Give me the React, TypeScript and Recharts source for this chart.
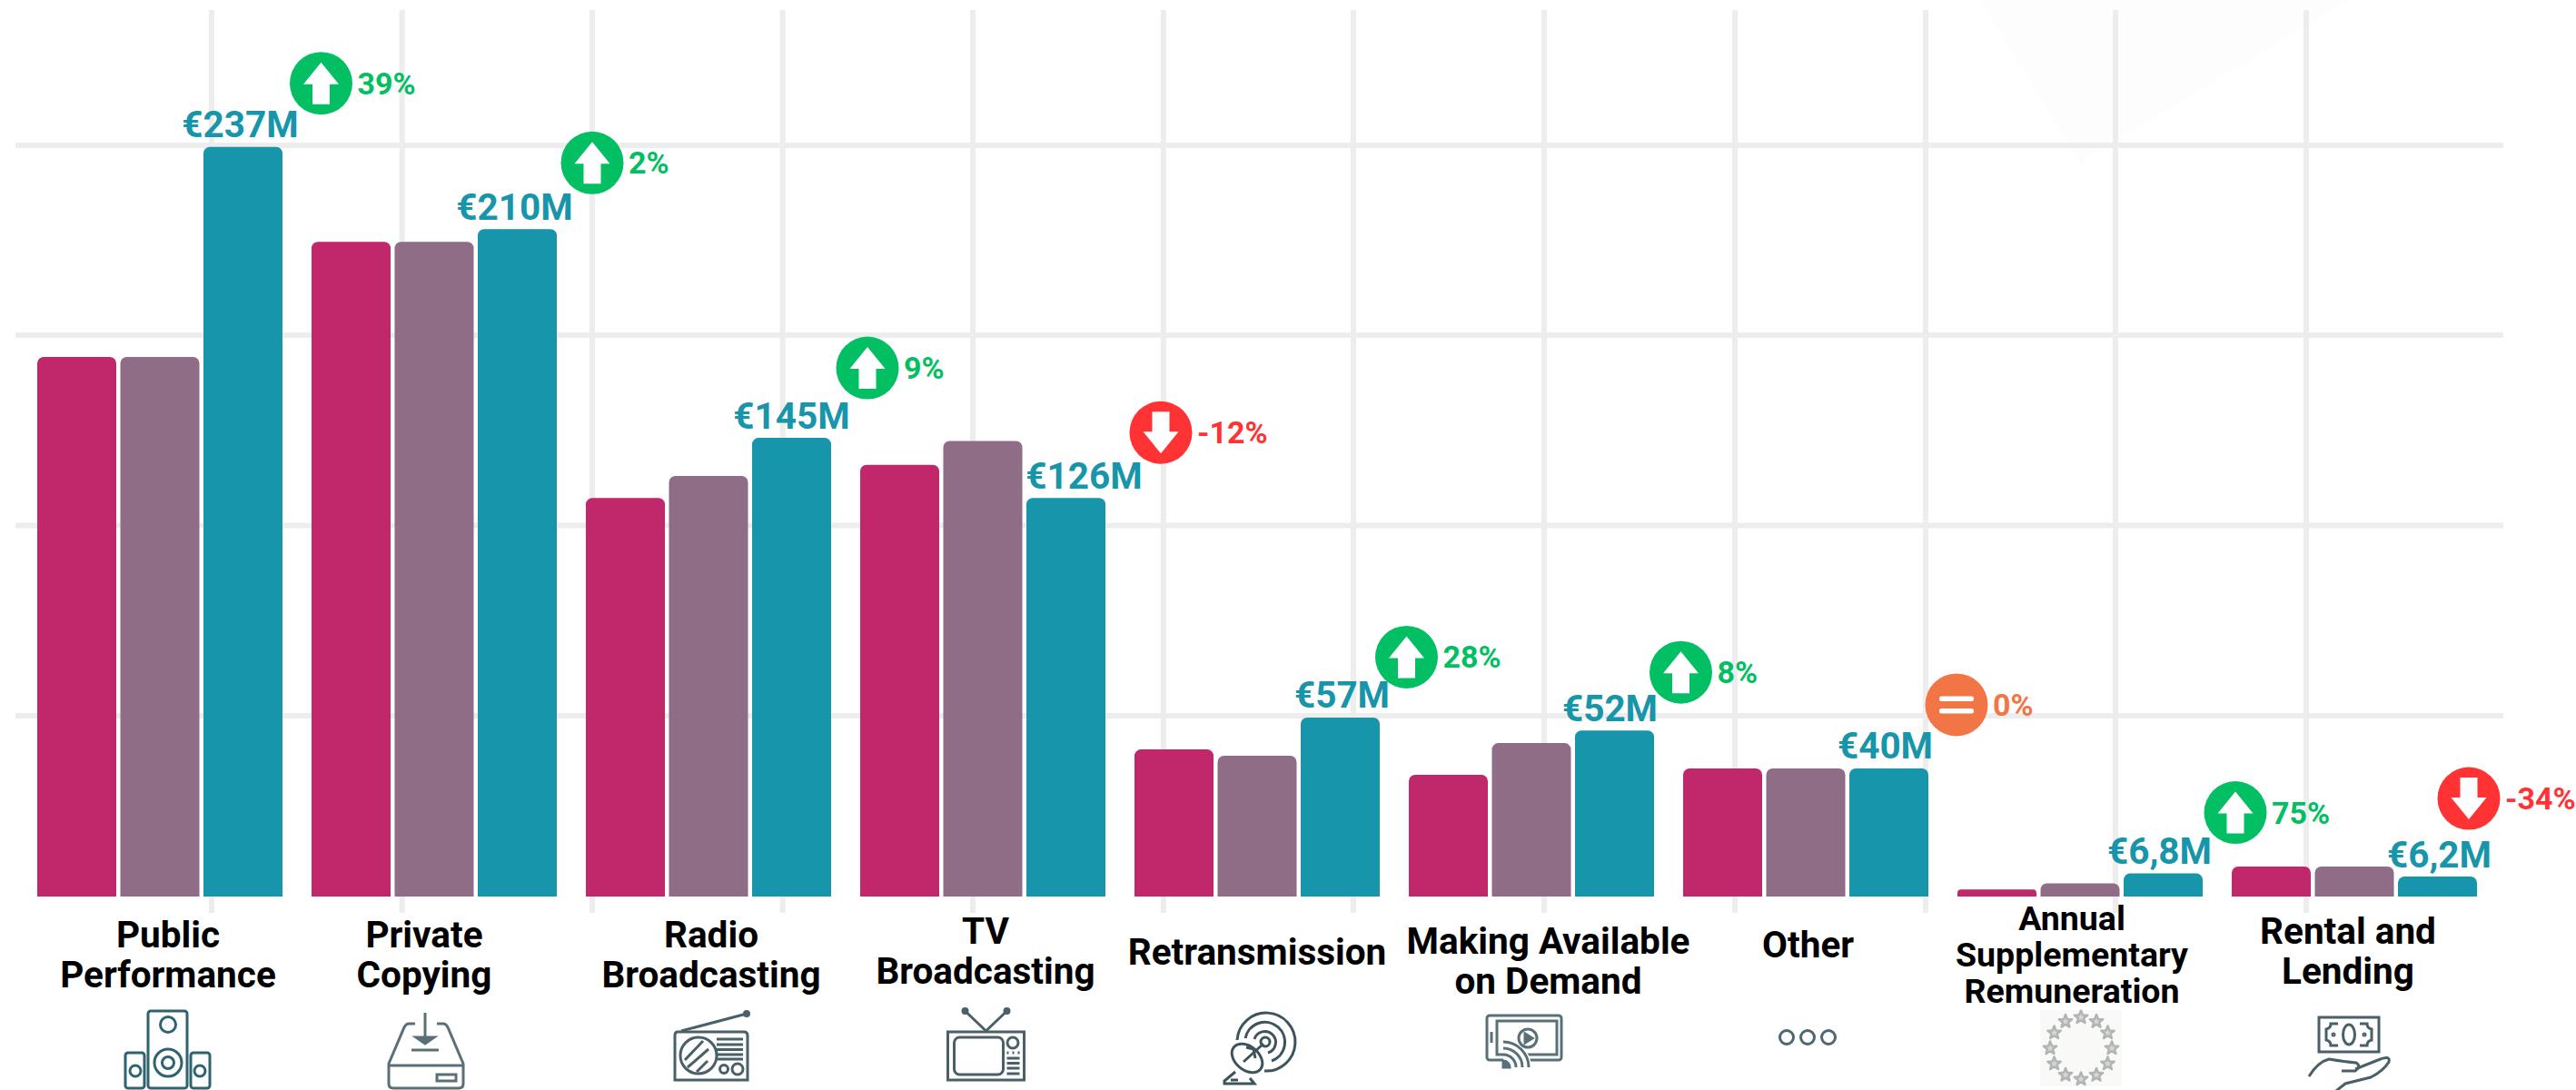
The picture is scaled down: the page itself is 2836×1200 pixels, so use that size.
import { BarChart, Bar, XAxis, YAxis, CartesianGrid, LabelList } from "recharts";

const categories = [
  "Public Performance",
  "Private Copying",
  "Radio Broadcasting",
  "TV Broadcasting",
  "Retransmission",
  "Making Available on Demand",
  "Other",
  "Annual Supplementary Remuneration",
  "Rental and Lending",
];
const categoryLines = [
  ["Public", "Performance"],
  ["Private", "Copying"],
  ["Radio", "Broadcasting"],
  ["TV", "Broadcasting"],
  ["Retransmission"],
  ["Making Available", "on Demand"],
  ["Other"],
  ["Annual", "Supplementary", "Remuneration"],
  ["Rental and", "Lending"],
];
const firstSeries = [170.6, 207, 126, 136.5, 46.5, 38.5, 40.5, 2.2, 9.5];
const secondSeries = [170.6, 207, 133, 144, 44.5, 48.5, 40.5, 4.2, 9.5];
const thirdSeries = [237, 211, 145, 126, 56.6, 52.5, 40.5, 7.3, 6.3];
const valueLabels = ["€237M", "€210M", "€145M", "€126M", "€57M", "€52M", "€40M", "€6,8M", "€6,2M"];
const changes = [39, 2, 9, -12, 28, 8, 0, 75, -34];

const chartData = categories.map((name, i) => ({
  name,
  first: firstSeries[i],
  second: secondSeries[i],
  third: thirdSeries[i],
}));

// hand placement, the source has these nudged per category
const labelShift = [-3, -3, 0, 20, 2, -5, -4, -4, 2];
const badgeShift = [
  [86, -70],
  [82.5, -73],
  [83.5, -77],
  [104.5, -72],
  [73, -66.5],
  [73, -64],
  [74.5, -70],
  [79.5, -67],
  [34.5, -86],
];
const tickLayout = [
  { dx: 9, top: 56, step: 44, size: 40.5 },
  { dx: -11, top: 56, step: 44, size: 40.5 },
  { dx: 3, top: 56, step: 44, size: 40.5 },
  { dx: 3, top: 52, step: 44, size: 40.5 },
  { dx: 0, top: 75, step: 44, size: 40.5 },
  { dx: 18.5, top: 63, step: 44, size: 40.5 },
  { dx: 2.6, top: 67, step: 44, size: 40.5 },
  { dx: -9, top: 37, step: 40, size: 37.5 },
  { dx: -7, top: 52, step: 44, size: 40.5 },
];
const iconShift = [
  [9, 168],
  [-9, 170],
  [3, 166],
  [3.5, 166],
  [9, 160],
  [-8, 155],
  [2, 155],
  [1, 167],
  [-6, 152],
];

const MAGENTA = "#C1276B";
const MAUVE = "#8F6D87";
const TEAL = "#1795AB";
const GREEN = "#03BF63";
const RED = "#FF3333";
const ORANGE = "#F27545";
const GRID = "#EDEDED";
const FONT = "Roboto";

const line = { fill: "none", strokeWidth: 3 };

const Speakers = () => (
  <g {...line} stroke="#2F6370">
    <rect x={-22} y={-42} width={43} height={85} rx={3} />
    <circle cx={0} cy={-27} r={8.5} />
    <circle cx={0} cy={15} r={15} />
    <circle cx={0} cy={15} r={6.5} />
    <rect x={-47} y={4} width={21} height={39} rx={3} />
    <circle cx={-36} cy={24} r={6} />
    <rect x={25} y={4} width={21} height={39} rx={3} />
    <circle cx={35} cy={24} r={6} />
  </g>
);

const DriveIcon = () => (
  <g {...line} stroke="#5A7079">
    <path d="M-12 -30 H-19 Q-22 -30 -24 -26 L-41 14 V36 Q-41 41 -36 41 H36 Q41 41 41 36 V14 L24 -26 Q22 -30 19 -30 H12" />
    <path d="M-41 16 H41" />
    <path d="M-1 -42 V-12" />
    <path d="M-11 -15 H9 L-1 -8 Z" fill="#5A7079" />
    <path d="M-16 -1 H14" />
    <rect x={12} y={26} width={21} height={7} />
  </g>
);

const RadioIcon = () => (
  <g {...line} stroke="#4A6068">
    <path d="M-37 -17 H36 Q40 -17 40 -13 V36 H-40 V-13 Q-40 -17 -37 -17 Z" />
    <path d="M-33 -18 L39 -37" />
    <circle cx={39} cy={-37} r={2.5} fill="#4A6068" />
    <circle cx={-14} cy={9} r={20} />
    <path d="M-29 14 L-9 -7 M-26 22 L-3 2 M-16 27 L-4 15" />
    <path d="M6 -9 H35 M6 -3 H35 M6 2.5 H35 M6 8 H35 M6 13 H35" />
    <circle cx={14} cy={24} r={4.5} />
    <circle cx={29} cy={24} r={6} />
  </g>
);

const TvIcon = () => (
  <g {...line} stroke="#4A6068">
    <rect x={-42} y={-17} width={84} height={53} />
    <path d="M-23 -40 L0 -18 L23 -40" />
    <circle cx={-23} cy={-40} r={2.5} fill="#4A6068" />
    <circle cx={23} cy={-40} r={2.5} fill="#4A6068" />
    <rect x={-35} y={-11} width={54} height={41} rx={6} />
    <circle cx={29.5} cy={-5} r={6} />
    <path d="M23 6 H25 M29 6 H31 M35 6 H37" />
    <path d="M23 12 H37 M23 17.5 H37 M23 23 H37 M23 29 H37" />
  </g>
);

const DishIcon = () => (
  <g {...line} stroke="#3E545C">
    <path d="M-31 -2 A32 32 0 1 1 -1 32" />
    <path d="M-22 -4 A22 22 0 1 1 7 21" />
    <path d="M-12 -3 A12 12 0 1 1 3 12" />
    <circle cx={0} cy={0} r={5} />
    <ellipse cx={-20} cy={18} rx={19} ry={13} transform="rotate(40 -20 18)" fill="#fff" />
    <path d="M-2 2 L-24 22 M-21 6 L-13 8 L-11 18" />
    <path d="M-33 33 L-45 43 V46 H-12 L-17 40" />
    <path d="M-38 42 H-30" />
  </g>
);

const StreamIcon = () => (
  <g {...line} stroke="#5A7079">
    <rect x={-41} y={-24} width={82} height={49} rx={3} />
    <rect x={-30} y={-18} width={66} height={37} />
    <path d="M-36 -6 V6" />
    <path d="M-23 33 V2 A31 31 0 0 1 8 33 Z" fill="#fff" stroke="none" />
    <circle cx={4} cy={1} r={10} />
    <path d="M1 -4 L9 1 L1 6 Z" fill="#5A7079" />
    <path d="M-23 19 A14 14 0 0 1 -9 33" />
    <path d="M-23 12 A21 21 0 0 1 -2 33" />
    <path d="M-23 5 A28 28 0 0 1 5 33" />
    <path d="M-23 26 A7 7 0 0 1 -16 33 H-23 Z" fill="#5A7079" />
  </g>
);

const DotsIcon = () => (
  <g {...line} stroke="#4F6771">
    <circle cx={-23} cy={0} r={7.5} />
    <circle cx={0} cy={0} r={7.5} />
    <circle cx={23} cy={0} r={7.5} />
  </g>
);

const starPoints = (cx: number, cy: number) =>
  Array.from({ length: 10 }, (_, k) => {
    const r = k % 2 === 0 ? 7.5 : 3.2;
    const a = (k * Math.PI) / 5 - Math.PI / 2;
    return `${cx + r * Math.cos(a)},${cy + r * Math.sin(a)}`;
  }).join(" ");

const StarsIcon = () => (
  <g>
    <rect x={-45} y={-42} width={90} height={84} fill="#F9F9F7" />
    {Array.from({ length: 12 }, (_, k) => (
      <polygon
        key={k}
        points={starPoints(34 * Math.sin((k * Math.PI) / 6), -34 * Math.cos((k * Math.PI) / 6))}
        fill="#D5D8D6"
        stroke="#B0B5B3"
        strokeWidth={2.5}
        strokeLinejoin="round"
      />
    ))}
  </g>
);

const MoneyIcon = () => (
  <g {...line} stroke="#4A6068">
    <rect x={-33} y={-19} width={66} height={38} />
    <ellipse cx={0} cy={0} rx={6.5} ry={11} />
    <path d="M-12 -12 H-20 Q-20 -7 -25 -6 V6 Q-20 7 -20 12 H-12" />
    <path d="M12 -12 H20 Q20 -7 25 -6 V6 Q20 7 20 12 H12" />
    <circle cx={-17} cy={0} r={1} />
    <circle cx={17} cy={0} r={1} />
    <path d="M-44 46 Q-34 30 -22 27 Q-4 30 8 31 Q14 35 7 40 H-8" />
    <path d="M7 38 L32 28 Q46 22 44 30 Q38 40 24 47 L-4 54 L-14 62" />
  </g>
);

const icons = [Speakers, DriveIcon, RadioIcon, TvIcon, DishIcon, StreamIcon, DotsIcon, StarsIcon, MoneyIcon];

const CategoryTick = ({ x, y, index }: any) => {
  const layout = tickLayout[index];
  const Icon = icons[index];
  return (
    <g>
      {categoryLines[index].map((text, i) => (
        <text
          key={text}
          x={x + layout.dx}
          y={y + layout.top + i * layout.step}
          textAnchor="middle"
          fontFamily={FONT}
          fontWeight={700}
          fontSize={layout.size}
          fill="#000"
        >
          {text}
        </text>
      ))}
      <g transform={`translate(${x + iconShift[index][0]} ${y + iconShift[index][1]})`}>
        <Icon />
      </g>
    </g>
  );
};

const ChangeBadge = ({ x, y, width, index }: any) => {
  const change = changes[index];
  const color = change > 0 ? GREEN : change < 0 ? RED : ORANGE;
  const barMid = x + width / 2;
  const cx = barMid + badgeShift[index][0];
  const cy = y + badgeShift[index][1];
  return (
    <g>
      <text
        x={barMid + labelShift[index]}
        y={y - 10.5}
        textAnchor="middle"
        fontFamily={FONT}
        fontWeight={700}
        fontSize={40.5}
        fill={TEAL}
      >
        {valueLabels[index]}
      </text>
      <circle cx={cx} cy={cy} r={34.5} fill={color} />
      {change === 0 ? (
        <g fill="#fff">
          <rect x={cx - 19} y={cy - 9.5} width={38} height={5.5} rx={2.5} />
          <rect x={cx - 19} y={cy + 4} width={38} height={5.5} rx={2.5} />
        </g>
      ) : (
        <path
          d="M0 -23 L19.5 1 H9.5 V23 H-9.5 V1 H-19.5 Z"
          fill="#fff"
          transform={`translate(${cx} ${cy}) scale(1 ${change > 0 ? 1 : -1})`}
        />
      )}
      <text x={cx + 40} y={cy + 12} fontFamily={FONT} fontWeight={700} fontSize={34} fill={color}>
        {`${change}%`}
      </text>
    </g>
  );
};

const App = () => (
  <div style={{ position: "absolute", left: 0, top: 0, width: 2836, height: 1200, background: "#fff", overflow: "hidden" }}>
    <svg width={2836} height={1200} style={{ position: "absolute", left: 0, top: 0 }}>
      <polygon points="2180,0 2584,0 2290,180" fill="#FDFDFD" />
    </svg>
    <BarChart
      width={2836}
      height={1200}
      data={chartData}
      margin={{ top: 12, right: 93, bottom: 0, left: 25 }}
      barSize={87}
      barGap={4.5}
      style={{ position: "absolute", left: 0, top: 0 }}
    >
      <CartesianGrid
        x={17}
        y={11}
        width={2739}
        height={994}
        stroke={GRID}
        strokeWidth={6}
        horizontalPoints={[160, 369, 578.5, 788]}
        verticalPoints={[233, 442.6, 652, 861.6, 1071, 1280.8, 1490, 1700, 1910, 2120, 2329, 2539]}
      />
      <XAxis
        dataKey="name"
        height={213}
        axisLine={false}
        tickLine={false}
        tickSize={0}
        tickMargin={0}
        interval={0}
        tick={<CategoryTick />}
      />
      <YAxis hide domain={[0, 280]} />
      <Bar dataKey="first" fill={MAGENTA} radius={[7, 7, 0, 0]} isAnimationActive={false} />
      <Bar dataKey="second" fill={MAUVE} radius={[7, 7, 0, 0]} isAnimationActive={false} />
      <Bar dataKey="third" fill={TEAL} radius={[7, 7, 0, 0]} isAnimationActive={false}>
        <LabelList dataKey="third" content={<ChangeBadge />} />
      </Bar>
    </BarChart>
  </div>
);

export default App;
